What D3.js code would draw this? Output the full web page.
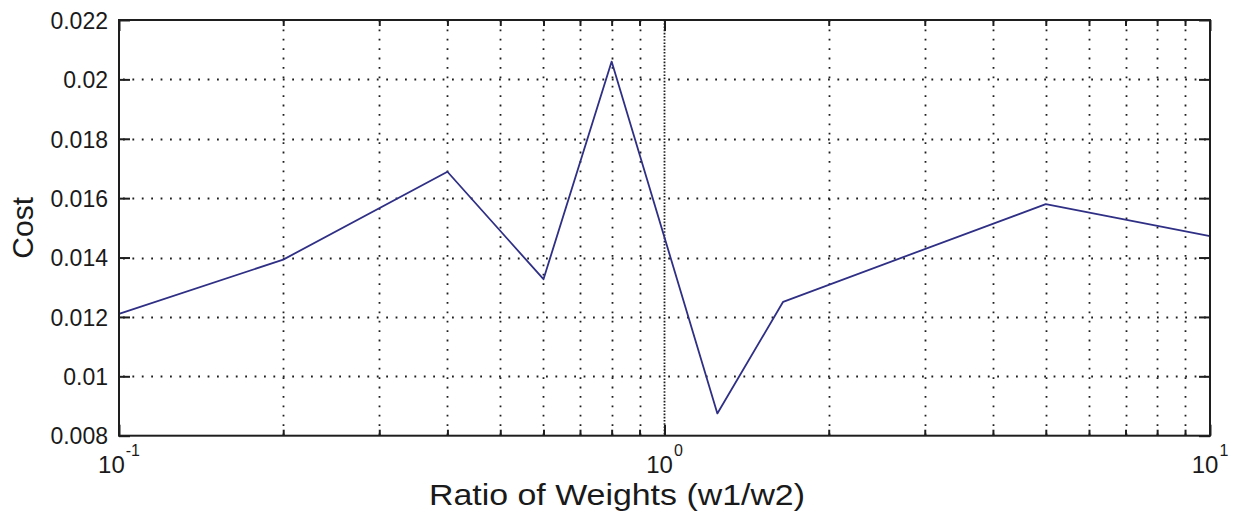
<!DOCTYPE html>
<html>
<head>
<meta charset="utf-8">
<script src="https://cdn.jsdelivr.net/npm/d3@7"></script>
<style>
  html, body { margin: 0; padding: 0; background: #ffffff; }
  svg { display: block; }
  text { font-family: "Liberation Sans", Arial, sans-serif; fill: #1a1a1a; }
</style>
</head>
<body>
<svg id="chart" width="1233" height="521"></svg>
<script>
// Cost measured at each weight ratio w1/w2
const ratios = [0.1, 0.2, 0.4, 0.6, 0.8, 1.25, 1.65, 5, 10];
const costs  = [0.0121, 0.01393, 0.01689, 0.01327, 0.0206, 0.00875, 0.01251, 0.0158, 0.01472];

// Axis ticks
const yTicks = [0.008, 0.01, 0.012, 0.014, 0.016, 0.018, 0.02, 0.022];
const yTickLabels = ["0.008", "0.01", "0.012", "0.014", "0.016", "0.018", "0.02", "0.022"];
const xDecades = [0.1, 1, 10];
const xExponents = ["-1", "0", "1"];

const xLabel = "Ratio of Weights (w1/w2)";
const yLabel = "Cost";

(function draw() {
  const svg = d3.select("#chart");
  const pLeft = 119, pRight = 1210, pTop = 20, pBottom = 435.7;
  const W = pRight - pLeft, H = pBottom - pTop;

  const x = d3.scaleLog().domain([0.1, 10]).range([pLeft, pRight]);
  const y = d3.scaleLinear().domain([0.008, 0.022]).range([pBottom, pTop]);

  // minor x positions: 2..9 within each decade
  const xMinor = [];
  [0.1, 1].forEach(d => { for (let k = 2; k <= 9; k++) xMinor.push(d * k); });

  const ink = "#1e1e1e";
  const grid = svg.append("g");
  const dash = "1.8,7.6";

  // vertical grid (minor + major)
  grid.selectAll("line.vmin").data(xMinor).enter().append("line")
    .attr("x1", d => Math.round(x(d)) + 0.5).attr("x2", d => Math.round(x(d)) + 0.5)
    .attr("y1", pTop).attr("y2", pBottom)
    .attr("stroke", ink).attr("stroke-width", 1.8).attr("stroke-dasharray", dash);
  grid.selectAll("line.vmaj").data([1]).enter().append("line")
    .attr("x1", d => Math.round(x(d)) + 0.5).attr("x2", d => Math.round(x(d)) + 0.5)
    .attr("y1", pTop).attr("y2", pBottom)
    .attr("stroke", ink).attr("stroke-width", 1.8).attr("stroke-dasharray", "1.6,1.6");

  // horizontal grid
  grid.selectAll("line.h").data(yTicks.slice(1, -1)).enter().append("line")
    .attr("x1", pLeft).attr("x2", pRight)
    .attr("y1", d => Math.round(y(d)) + 0.5).attr("y2", d => Math.round(y(d)) + 0.5)
    .attr("stroke", ink).attr("stroke-width", 1.8).attr("stroke-dasharray", dash)
    .attr("stroke-dashoffset", -4);

  // data line
  const line = d3.line().x((d, i) => x(ratios[i])).y(d => y(d));
  svg.append("path").datum(costs)
    .attr("d", line)
    .attr("fill", "none")
    .attr("stroke", "#2f2f86")
    .attr("stroke-width", 1.8)
    .attr("stroke-linejoin", "round");

  // axes box
  svg.append("rect").attr("x", pLeft).attr("y", pTop).attr("width", W).attr("height", H)
    .attr("fill", "none").attr("stroke", ink).attr("stroke-width", 2);

  // inward ticks on all four sides
  const majorLen = 11, minorLen = 6;
  function styleAxis(g) {
    g.select(".domain").remove();
    g.selectAll(".tick line").attr("stroke", ink).attr("stroke-width", 2);
  }
  svg.append("g").attr("transform", `translate(0,${pBottom})`)
    .call(d3.axisBottom(x).tickValues(xDecades).tickSizeInner(-majorLen).tickSizeOuter(0).tickFormat(""))
    .call(styleAxis);
  svg.append("g").attr("transform", `translate(0,${pBottom})`)
    .call(d3.axisBottom(x).tickValues(xMinor).tickSizeInner(-minorLen).tickSizeOuter(0).tickFormat(""))
    .call(styleAxis);
  svg.append("g").attr("transform", `translate(0,${pTop})`)
    .call(d3.axisTop(x).tickValues(xDecades).tickSizeInner(-majorLen).tickSizeOuter(0).tickFormat(""))
    .call(styleAxis);
  svg.append("g").attr("transform", `translate(0,${pTop})`)
    .call(d3.axisTop(x).tickValues(xMinor).tickSizeInner(-minorLen).tickSizeOuter(0).tickFormat(""))
    .call(styleAxis);

  // y axis with labels
  const yAx = svg.append("g").attr("transform", `translate(${pLeft},0)`)
    .call(d3.axisLeft(y).tickValues(yTicks).tickSizeInner(-majorLen).tickSizeOuter(0)
      .tickFormat((d, i) => yTickLabels[i]));
  yAx.call(styleAxis);
  yAx.selectAll(".tick text")
    .attr("font-size", 23).attr("fill", "#1a1a1a")
    .attr("font-family", "'Liberation Sans', Arial, sans-serif")
    .attr("x", -11).attr("dy", "0.36em");
  svg.append("g").attr("transform", `translate(${pRight},0)`)
    .call(d3.axisRight(y).tickValues(yTicks).tickSizeInner(-majorLen).tickSizeOuter(0).tickFormat(""))
    .call(styleAxis);

  // x tick labels: 10 with superscript exponent, centred on the tick
  const xl = svg.append("g");
  xDecades.forEach((d, i) => {
    const t = xl.append("text")
      .attr("x", x(d)).attr("y", 473)
      .attr("text-anchor", "middle")
      .attr("font-size", 24);
    t.append("tspan").text("10");
    t.append("tspan").text(xExponents[i])
      .attr("font-size", 16).attr("dy", -17).attr("dx", 1);
  });

  // axis titles
  svg.append("text")
    .attr("x", 617).attr("y", 505)
    .attr("text-anchor", "middle")
    .attr("font-size", 30)
    .attr("textLength", 376)
    .attr("lengthAdjust", "spacingAndGlyphs")
    .text(xLabel);
  svg.append("text")
    .attr("transform", `translate(33,${(pTop + pBottom) / 2}) rotate(-90)`)
    .attr("text-anchor", "middle")
    .attr("font-size", 30)
    .text(yLabel);
})();
</script>
</body>
</html>
